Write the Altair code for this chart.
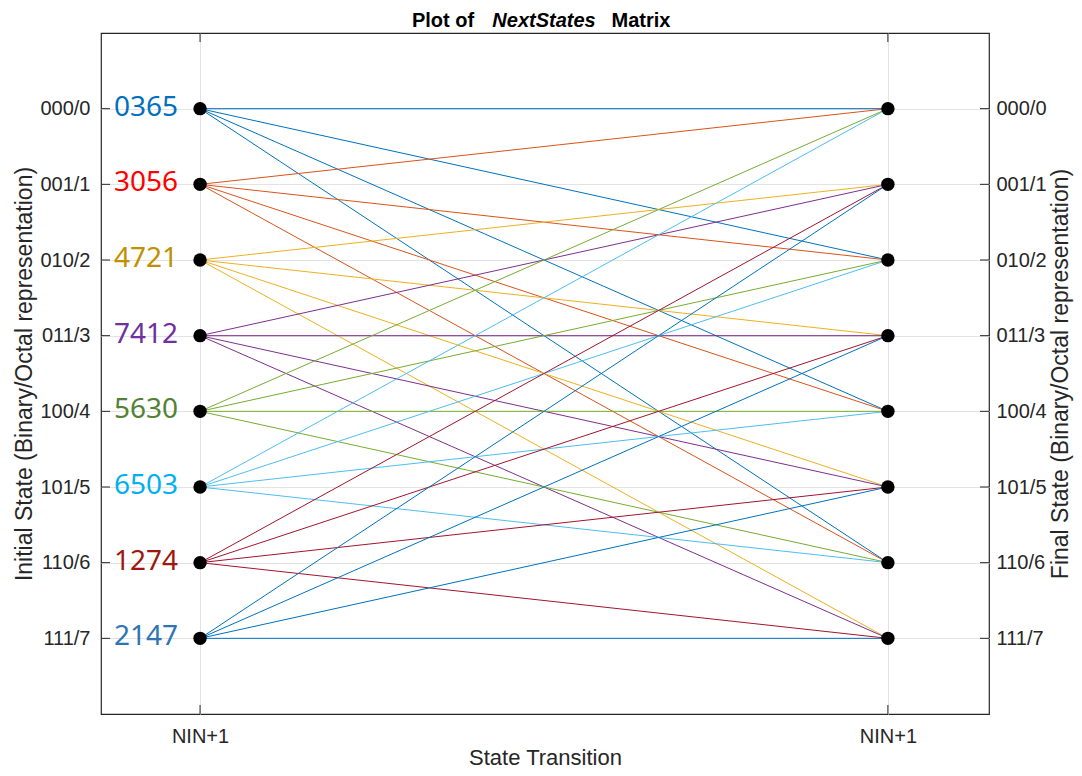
import altair as alt
import pandas as pd

state_labels = ["000/0", "001/1", "010/2", "011/3", "100/4", "101/5", "110/6", "111/7"]
states = [0, 1, 2, 3, 4, 5, 6, 7]
codes = ["0365", "3056", "4721", "7412", "5630", "6503", "1274", "2147"]
code_colors = ["#0070C0", "#FF0000", "#BF9000", "#7030A0", "#538135", "#00B0F0", "#A0170F", "#2E75B6"]
line_colors = ["#0072BD", "#D95319", "#EDB120", "#7E2F8E", "#77AC30", "#4DBEEE", "#A2142F", "#0072BD"]
x_ticks = [1, 2]
x_tick_labels = ["NIN+1", "NIN+1"]
sources = [0, 0, 0, 0, 1, 1, 1, 1, 2, 2, 2, 2, 3, 3, 3, 3,
           4, 4, 4, 4, 5, 5, 5, 5, 6, 6, 6, 6, 7, 7, 7, 7]
targets = [0, 2, 4, 6, 0, 2, 4, 6, 1, 3, 5, 7, 1, 3, 5, 7,
           0, 2, 4, 6, 0, 2, 4, 6, 1, 3, 5, 7, 1, 3, 5, 7]

W, H = 888, 681
FONT = "Liberation Sans"
DARK = "#262626"
GRID = "#E3E3E3"

edges = pd.DataFrame({"src": sources, "dst": targets,
                      "x0": [x_ticks[0]] * len(sources), "x1": [x_ticks[1]] * len(sources)})
left_pts = pd.DataFrame({"s": states, "x": [x_ticks[0]] * 8, "code": codes})
right_pts = pd.DataFrame({"s": states, "x": [x_ticks[1]] * 8})
xt = pd.DataFrame({"xv": x_ticks})

xscale = alt.Scale(domain=[0.856, 2.147], nice=False, zero=False)
yscale = alt.Scale(domain=[-1, 8], reverse=True, nice=False, zero=False)

label_arr = "[" + ",".join("'" + s + "'" for s in state_labels) + "]"
xlabel_arr = "[" + ",".join("'" + s + "'" for s in x_tick_labels) + "]"

x_axis = alt.Axis(values=x_ticks, labelExpr=xlabel_arr + "[datum.value-1]", title="State Transition",
                  grid=True, gridColor=GRID, ticks=False, domain=False,
                  labelFont=FONT, labelFontSize=20, labelColor=DARK, labelPadding=12,
                  titleFont=FONT, titleFontSize=22, titleFontWeight="normal", titleColor=DARK,
                  titleBaseline="alphabetic", titleY=50)

left_axis = alt.Axis(values=states, labelExpr=label_arr + "[datum.value]",
                     title="Initial State (Binary/Octal representation)",
                     grid=True, gridColor=GRID, ticks=False, domain=False,
                     labelFont=FONT, labelFontSize=20, labelColor=DARK, labelPadding=11,
                     titleFont=FONT, titleFontSize=23, titleFontWeight="normal", titleColor=DARK, titlePadding=3)

right_axis = alt.Axis(values=states, labelExpr=label_arr + "[datum.value]", orient="right",
                      title="Final State (Binary/Octal representation)", titleAngle=270,
                      grid=False, ticks=False, domain=False,
                      labelFont=FONT, labelFontSize=20, labelColor=DARK, labelPadding=7,
                      titleFont=FONT, titleFontSize=23, titleFontWeight="normal", titleColor=DARK, titlePadding=26)

X = lambda f: alt.X(f, scale=xscale, axis=x_axis)

lines = alt.Chart(edges).mark_rule(strokeWidth=1).encode(
    x=X("x0:Q"),
    x2="x1:Q",
    y=alt.Y("src:Q", scale=yscale, axis=left_axis),
    y2="dst:Q",
    color=alt.Color("src:N", scale=alt.Scale(domain=states, range=line_colors), legend=None),
)

lpts = alt.Chart(left_pts).mark_circle(size=180, opacity=1, color="black").encode(
    x=X("x:Q"),
    y=alt.Y("s:Q", scale=yscale, axis=None),
)

rpts = alt.Chart(right_pts).mark_circle(size=180, opacity=1, color="black").encode(
    x=X("x:Q"),
    y=alt.Y("s:Q", scale=yscale, axis=right_axis),
)

codes_txt = alt.Chart(left_pts).mark_text(font="Noto Sans", fontSize=28, align="right",
                                          baseline="alphabetic", dx=-22, dy=7).encode(
    x=X("x:Q"),
    y=alt.Y("s:Q", scale=yscale, axis=None),
    text="code:N",
    color=alt.Color("code:N", scale=alt.Scale(domain=codes, range=code_colors), legend=None),
)

tick_l = alt.Chart(left_pts).mark_rule(color=DARK, strokeWidth=1).encode(
    y=alt.Y("s:Q", scale=yscale, axis=None), x=alt.value(0), x2=alt.value(9))
tick_r = alt.Chart(left_pts).mark_rule(color=DARK, strokeWidth=1).encode(
    y=alt.Y("s:Q", scale=yscale, axis=None), x=alt.value(W - 9), x2=alt.value(W))
tick_b = alt.Chart(xt).mark_rule(color=DARK, strokeWidth=1).encode(
    x=X("xv:Q"), y=alt.value(H), y2=alt.value(H - 9))
tick_t = alt.Chart(xt).mark_rule(color=DARK, strokeWidth=1).encode(
    x=X("xv:Q"), y=alt.value(0), y2=alt.value(9))


def title_part(txt, xpos, style):
    return alt.Chart(pd.DataFrame({"t": [txt]})).mark_text(
        font=FONT, fontSize=20, fontWeight="bold", fontStyle=style, align="center",
        baseline="alphabetic", color="black").encode(
        x=alt.value(xpos), y=alt.value(-6), text="t:N")


t1 = title_part("Plot of", 342, "normal")
t2 = title_part("NextStates", 443, "italic")
t3 = title_part("Matrix", 540, "normal")

chart = alt.layer(lines, lpts, rpts, codes_txt, tick_l, tick_r, tick_b, tick_t, t1, t2, t3).resolve_scale(
    y="independent", color="independent"
).properties(
    width=W, height=H,
    background="white",
    autosize=alt.AutoSizeParams(type="none"),
    padding={"left": 93, "top": 25, "right": 85, "bottom": 54},
).configure_view(stroke=DARK, strokeWidth=1.2)

chart.save("out.html", embed_options={"renderer": "svg", "actions": False})
